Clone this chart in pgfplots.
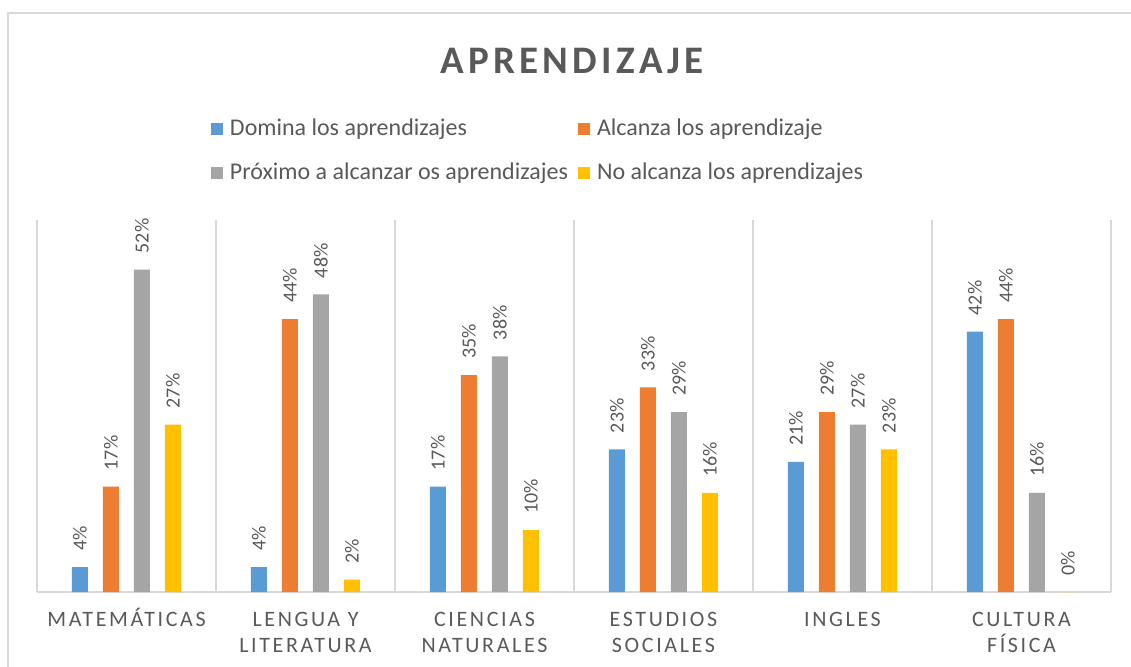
\documentclass[border=0pt]{standalone}
\usepackage{fontspec}
\setmainfont{Carlito}
\usepackage{pgfplots}
\pgfplotsset{compat=1.18}
\newfontfamily\titlefont[LetterSpace=11]{Carlito}
\newfontfamily\tickfont[LetterSpace=12]{Carlito}
\definecolor{cblue}{HTML}{5B9BD5}
\definecolor{corange}{HTML}{ED7D31}
\definecolor{cgray}{HTML}{A5A5A5}
\definecolor{cyellow}{HTML}{FFC000}
\definecolor{txt}{HTML}{595959}
\definecolor{gridc}{HTML}{D9D9D9}
\newcommand\tl[1]{{\tickfont\fontsize{11}{13}\selectfont\begin{tabular}{@{}c@{}}#1\end{tabular}}}
\begin{document}
\begin{tikzpicture}[x=0.5pt,y=0.5pt]
\useasboundingbox (0,0) rectangle (1131,666);
\draw[gridc, line width=1pt] (7.5,-20) -- (7.5,653) -- (1150,653);
\begin{axis}[
 at={(18.5pt,37pt)}, anchor=south west,
 scale only axis, width=537pt, height=186pt,
 xmin=-0.5, xmax=5.5, ymin=0, ymax=60,
 ybar=7.5pt, bar width=8pt,
 axis x line*=bottom, axis y line=none,
 x axis line style={draw=gridc, line width=1pt, -},
 xtick={0,1,2,3,4,5},
 xticklabels={{\tl{MATEMÁTICAS}},{\tl{LENGUA Y\\LITERATURA}},{\tl{CIENCIAS\\NATURALES}},{\tl{ESTUDIOS\\SOCIALES}},{\tl{INGLES}},{\tl{CULTURA\\FÍSICA}}},
 major tick length=0pt, minor tick length=0pt,
 minor xtick={-0.5,0.5,1.5,2.5,3.5,4.5,5.5},
 xminorgrids=true, minor x grid style={gridc, line width=1pt},
 xticklabel style={inner sep=0pt, yshift=-7.9pt, text=txt, anchor=north},
 nodes near coords={\pgfmathprintnumber{\pgfplotspointmeta}\%},
 nodes near coords style={rotate=90, anchor=west, inner xsep=8pt, inner ysep=0pt, text=txt, font=\fontsize{10}{12}\selectfont},
 /pgf/number format/assume math mode=true,
 legend columns=2, legend cell align=left,
 legend style={at={(0.162,1.273)}, anchor=north west, draw=none, fill=none, inner sep=0pt, outer sep=0pt, text=txt, font=\fontsize{12}{14}\selectfont, column sep=0pt, row sep=11pt, nodes={inner sep=0pt, text height=8.5pt, text depth=2.5pt}, /tikz/every odd column/.append style={column sep=3.5pt}, /tikz/every even column/.append style={column sep=5pt}},
 legend image code/.code={\fill[#1] (0pt,-3pt) rectangle (6pt,3pt);},
 clip=false,
]
\addplot[fill=cblue, draw=none] coordinates {(0,4) (1,4) (2,17) (3,23) (4,21) (5,42)};
\addlegendentry{Domina los aprendizajes}
\addplot[fill=corange, draw=none] coordinates {(0,17) (1,44) (2,35) (3,33) (4,29) (5,44)};
\addlegendentry{Alcanza los aprendizaje}
\addplot[fill=cgray, draw=none] coordinates {(0,52) (1,48) (2,38) (3,29) (4,27) (5,16)};
\addlegendentry{Próximo a alcanzar os aprendizajes}
\addplot[fill=cyellow, draw=none] coordinates {(0,27) (1,2) (2,10) (3,16) (4,23) (5,0)};
\addlegendentry{No alcanza los aprendizajes}
\end{axis}
\node[anchor=base, text=txt, inner sep=0pt] at (572,593) {\titlefont\fontsize{19.5}{23}\selectfont\bfseries APRENDIZAJE};
\end{tikzpicture}
\end{document}
